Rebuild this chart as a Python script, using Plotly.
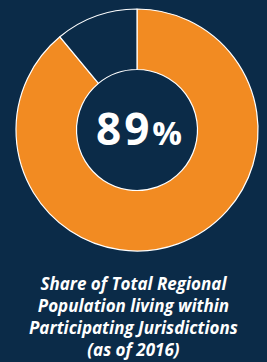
import plotly.graph_objects as go

labels = ["Participating", "Other"]
values = [89, 11]
colors = ["#f28b22", "#0b2b48"]
center_text = "89"
caption_lines = ["Share of Total Regional", "Population living within",
                 "Participating Jurisdictions", "(as of 2016)"]

W, H = 267, 362
bg = "#0b2b48"

fig = go.Figure(go.Pie(
    labels=labels, values=values, hole=0.5, sort=False, direction="clockwise",
    rotation=0, marker=dict(colors=colors, line=dict(color="white", width=1.2)),
    textinfo="none", hoverinfo="skip", showlegend=False,
    domain=dict(x=[16/W, 258/W], y=[(H-251)/H, (H-9)/H]),
))

fig.add_annotation(x=139/W, y=1-128/H, xref="paper", yref="paper",
                   xanchor="center", yanchor="middle",
                   text=f"<b><span style='letter-spacing:3px'>{center_text}</span><span style='font-size:33px'>%</span></b>",
                   showarrow=False, font=dict(family="Open Sans", size=44, color="white"))

fig.add_annotation(x=0.5, y=1-316/H, xref="paper", yref="paper",
                   xanchor="center", yanchor="middle", borderpad=0,
                   text="<br>".join(f"<b><i>{l}</i></b>" for l in caption_lines),
                   showarrow=False, align="center",
                   font=dict(family="Open Sans", size=17, color="white"))

fig.update_layout(width=W, height=H, margin=dict(l=0, r=0, t=0, b=0),
                  paper_bgcolor=bg, plot_bgcolor=bg)
fig.write_html("out.html", config={"displayModeBar": False},
               post_script="document.body.style.margin='0';document.body.style.background='#0b2b48';")
